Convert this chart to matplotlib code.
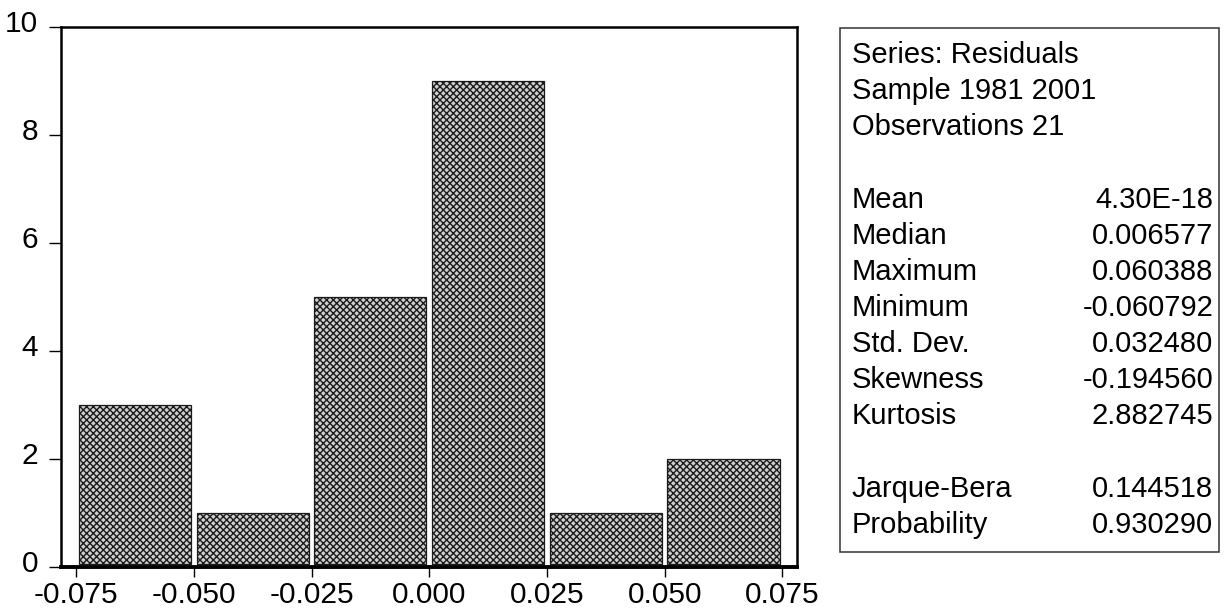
import matplotlib
matplotlib.use('Agg')
import matplotlib.pyplot as plt
from matplotlib.patches import Rectangle
from matplotlib.transforms import ScaledTranslation
import numpy as np

plt.rcParams['font.family'] = ['Liberation Sans', 'DejaVu Sans']
plt.rcParams['hatch.linewidth'] = 1.0

# Histogram of residuals (bin edges and counts)
bin_left = [-0.075, -0.050, -0.025, 0.000, 0.025, 0.050]
counts = [3, 1, 5, 9, 1, 2]
bin_width = 0.025

x_ticks = [-0.075, -0.050, -0.025, 0.000, 0.025, 0.050, 0.075]
y_ticks = [0, 2, 4, 6, 8, 10]

# Descriptive statistics box
header_lines = ["Series: Residuals", "Sample 1981 2001", "Observations 21"]
stat_names = ["Mean", "Median", "Maximum", "Minimum", "Std. Dev.", "Skewness", "Kurtosis"]
stat_values = ["4.30E-18", "0.006577", "0.060388", "-0.060792", "0.032480", "-0.194560", "2.882745"]
test_names = ["Jarque-Bera", "Probability"]
test_values = ["0.144518", "0.930290"]

fig = plt.figure(figsize=(12.25, 6.09), dpi=100)
ax = fig.add_axes([0.0498, 0.069, 0.6008, 0.8867])

gap = 0.0012
base = 0.06  # bars float just above the axis line
centers = np.array(bin_left) + bin_width / 2
ax.bar(centers, np.array(counts) - base, width=bin_width - gap, bottom=base,
       facecolor='#cfcfcf', edgecolor='#1a1a1a', linewidth=0.9,
       hatch='xxxxx')

ax.set_xlim(-0.0782, 0.0781)
ax.set_ylim(0, 10)
ax.set_xticks(x_ticks)
ax.set_xticklabels([f"{v:.3f}" for v in x_ticks])
ax.set_yticks(y_ticks)

for s in ['left', 'top', 'right']:
    ax.spines[s].set_linewidth(1.8)
ax.spines['bottom'].set_linewidth(2.8)

ax.tick_params(axis='y', direction='out', length=8.5, width=1.0, pad=8, labelsize=21.5)
ax.tick_params(axis='x', direction='out', length=7, width=1.0, pad=3, labelsize=21.5)

# y labels sit a little above their ticks in the original
shift = ScaledTranslation(0, 6 / 100, fig.dpi_scale_trans)
for lab in ax.get_yticklabels():
    lab.set_transform(lab.get_transform() + shift)

# stats panel
fig.patches.append(Rectangle((0.6857, 0.0941), 0.3096, 0.8594, transform=fig.transFigure,
                             fill=False, edgecolor='#333333', linewidth=1.1))

W, H = 1225, 609
x_left = 851.7 / W
x_right = 1213.3 / W
y0 = 55
step = 36.15

def ypos(i):
    return 1 - (y0 + i * step) / H

for i, t in enumerate(header_lines):
    fig.text(x_left, ypos(i), t, fontsize=21, va='center', ha='left')
for j, (n, v) in enumerate(zip(stat_names, stat_values)):
    fig.text(x_left, ypos(4 + j), n, fontsize=21, va='center', ha='left')
    fig.text(x_right, ypos(4 + j), v, fontsize=21, va='center', ha='right')
for j, (n, v) in enumerate(zip(test_names, test_values)):
    fig.text(x_left, ypos(12 + j), n, fontsize=21, va='center', ha='left')
    fig.text(x_right, ypos(12 + j), v, fontsize=21, va='center', ha='right')

fig.savefig('out.png', dpi=100)
